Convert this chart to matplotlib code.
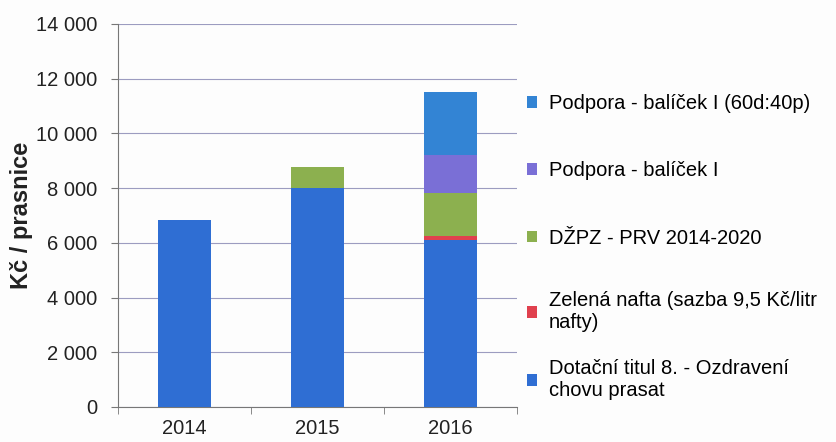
import matplotlib.pyplot as plt
import numpy as np
from matplotlib.patches import Patch
from matplotlib.ticker import FuncFormatter

# Data (Kč / prasnice)
years = ['2014', '2015', '2016']
dotacni_titul = [6850, 8000, 6100]
zelena_nafta = [0, 0, 150]
dzpz = [0, 770, 1560]
balicek = [0, 0, 1390]
balicek_60_40 = [0, 0, 2300]

series = [dotacni_titul, zelena_nafta, dzpz, balicek, balicek_60_40]
labels = ['Dotační titul 8. - Ozdravení\nchovu prasat',
          'Zelená nafta (sazba 9,5 Kč/litr\nnafty)',
          'DŽPZ - PRV 2014-2020',
          'Podpora - balíček I',
          'Podpora - balíček I (60d:40p)']
colors = ['#2f6ed3', '#e0404e', '#8cb04f', '#7a6fd6', '#3384d4']

plt.rcParams['font.family'] = ['Liberation Sans', 'DejaVu Sans']

fig = plt.figure(figsize=(8.36, 4.42), dpi=100)
fig.patch.set_facecolor('#fdfdfd')
ax = fig.add_axes([118/836, 1 - 407/442, (517 - 118)/836, (407 - 24)/442])
ax.set_facecolor('#fdfdfd')

x = np.arange(len(years))
bottom = np.zeros(len(years))
for vals, lab, col in zip(series, labels, colors):
    ax.bar(x, vals, width=0.4, bottom=bottom, color=col, label=lab, zorder=3)
    bottom += np.array(vals)

ax.set_ylim(0, 14000)
ax.set_xlim(-0.5, 2.5)
ax.set_yticks(range(0, 14001, 2000))
ax.yaxis.set_major_formatter(FuncFormatter(lambda v, p: f'{int(v):,}'.replace(',', ' ')))
ax.set_xticks(x)
ax.set_xticklabels(years)
ax.set_xticks([-0.5, 0.5, 1.5, 2.5], minor=True)
ax.tick_params(axis='x', which='major', length=0, pad=9, labelsize=14.5, colors='#222222')
ax.tick_params(axis='x', which='minor', length=5, color='#777777')
ax.tick_params(axis='y', length=5, color='#777777', labelsize=14.5, labelcolor='#222222', pad=10)
ax.grid(axis='y', color='#9c9cc0', linewidth=0.8, zorder=0)

for s in ['top', 'right']:
    ax.spines[s].set_visible(False)
for s in ['left', 'bottom']:
    ax.spines[s].set_color('#777777')

ax.set_ylabel('Kč / prasnice', fontsize=17, fontweight='bold', color='#222222', labelpad=2)

# legend, top entries first (reverse stacking order), split in two groups
handles = [Patch(facecolor=c) for c in colors][::-1]
rev_labels = labels[::-1]
opts = dict(loc='upper left', frameon=False, fontsize=14.5, handlelength=0.5,
            handleheight=0.5, handletextpad=0.6, borderaxespad=0, borderpad=0)
leg1 = fig.legend(handles[:3], rev_labels[:3], bbox_to_anchor=(527/836, 1 - 94/442),
                  labelspacing=2.4, **opts)
fig.legend(handles[3:], rev_labels[3:], bbox_to_anchor=(527/836, 1 - 291/442),
           labelspacing=1.35, **opts)

plt.savefig('out.png', dpi=100, facecolor=fig.get_facecolor())
